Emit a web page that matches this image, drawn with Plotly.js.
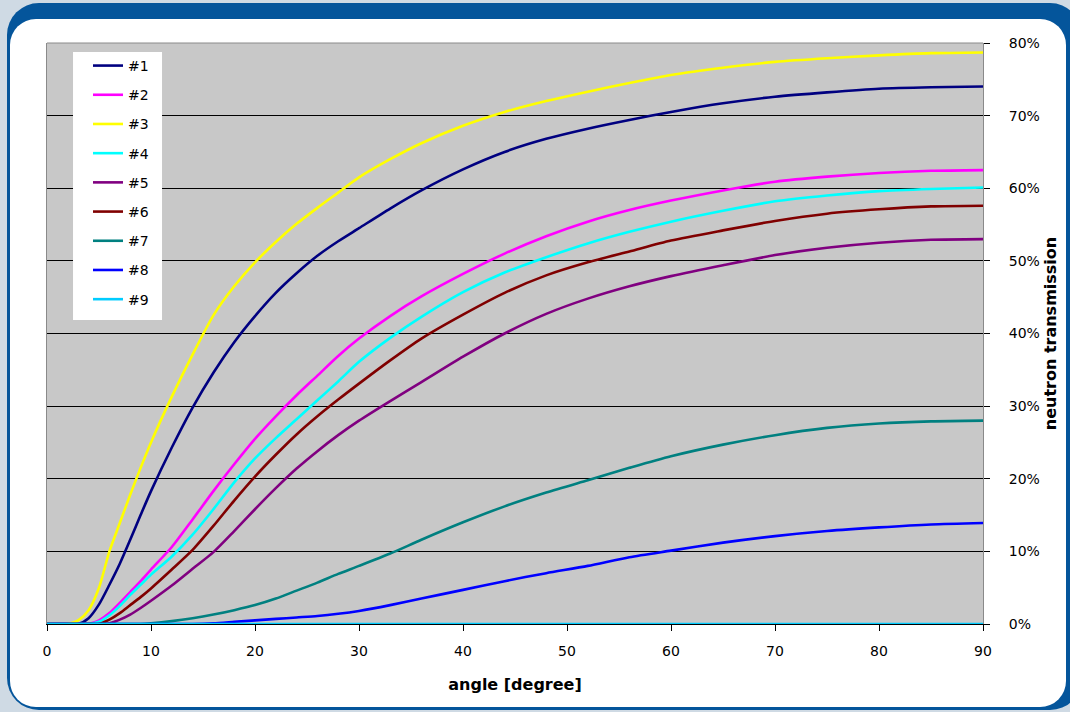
<!DOCTYPE html>
<html>
<head>
<meta charset="utf-8">
<script src="https://cdn.plot.ly/plotly-3.0.1.min.js"></script>
<style>
  html, body { margin: 0; padding: 0; width: 1070px; height: 712px; overflow: hidden; background: #cfdae4; }
  #frameOuter { position: absolute; left: 7px; top: 3px; width: 1075px; height: 707px; background: #04559b; border-radius: 32px; }
  #frameInner { position: absolute; left: 10px; top: 19px; width: 1056px; height: 688px; background: #ffffff; border-radius: 26px; }
  #chart { position: absolute; left: 0; top: 0; width: 1070px; height: 712px; }
</style>
</head>
<body>
<div id="frameOuter"></div>
<div id="frameInner"></div>
<div id="chart"></div>
<script>
// angle [degree]
const angles = [0,2,3,4,5,6,7,8,9,10,12,14,16,18,20,22,24,26,28,30,33,36,40,44,48,52,56,60,65,70,75,80,85,90];

// neutron transmission [%]
const s1 = [0,0,0,0.8,2.7,5.4,8.3,11.6,15.0,18.3,24.3,29.8,34.6,38.8,42.4,45.6,48.3,50.7,52.7,54.5,57.2,59.7,62.6,65.0,66.8,68.2,69.4,70.5,71.7,72.6,73.2,73.7,73.9,74.0];
const s2 = [0,0,0,0,0.5,1.5,2.9,4.4,5.9,7.5,10.6,14.4,18.3,22.0,25.5,28.6,31.5,34.2,36.9,39.3,42.4,45.1,48.2,51.0,53.4,55.4,57.0,58.3,59.7,60.9,61.6,62.1,62.4,62.5];
const s3 = [0,0,0.5,1.9,5.0,10.0,13.9,17.8,21.5,25.0,31.3,37.1,42.5,46.5,49.8,52.6,55.1,57.3,59.4,61.5,64.0,66.2,68.6,70.5,72.0,73.3,74.5,75.6,76.6,77.4,77.9,78.3,78.6,78.7];
const s4 = [0,0,0,0,0.3,1.2,2.5,4.0,5.4,6.8,9.3,12.3,15.8,19.5,22.8,25.6,28.2,30.8,33.4,36.1,39.4,42.3,45.7,48.4,50.5,52.4,54.0,55.4,56.9,58.2,59.0,59.6,59.9,60.1];
const s5 = [0,0,0,0,0,0.1,0.6,1.3,2.2,3.2,5.3,7.6,9.9,12.8,15.8,18.7,21.4,23.8,26.0,28.0,30.7,33.3,36.8,40.0,42.7,44.8,46.5,47.9,49.4,50.8,51.8,52.5,52.9,53.0];
const s6 = [0,0,0,0,0,0.6,1.5,2.6,3.7,4.9,7.5,10.2,13.5,17.0,20.3,23.3,26.1,28.6,30.9,33.1,36.3,39.3,42.6,45.6,48.0,49.8,51.3,52.8,54.2,55.5,56.5,57.1,57.5,57.6];
const s7 = [0,0,0,0,0,0,0,0,0,0.1,0.4,0.8,1.3,1.9,2.6,3.5,4.6,5.7,6.9,8.0,9.7,11.6,14.0,16.2,18.1,19.8,21.5,23.1,24.7,26.0,27.0,27.6,27.9,28.0];
const s8 = [0,0,0,0,0,0,0,0,0,0,0,0,0.1,0.3,0.5,0.7,0.9,1.1,1.4,1.8,2.6,3.5,4.7,5.9,7.0,8.0,9.2,10.1,11.2,12.1,12.8,13.3,13.7,13.9];
const s9 = [0,0,0,0,0,0,0,0,0,0,0,0,0,0,0,0,0,0,0,0,0,0,0,0,0,0,0,0,0,0,0,0,0,0];

const seriesNames = ['#1','#2','#3','#4','#5','#6','#7','#8','#9'];
const seriesValues = [s1,s2,s3,s4,s5,s6,s7,s8,s9];
const seriesColors = ['#000080','#ff00ff','#ffff00','#00ffff','#800080','#800000','#008080','#0000ff','#00ccff'];

const yTicks = [0,10,20,30,40,50,60,70,80];
const yTickLabels = ['0%','10%','20%','30%','40%','50%','60%','70%','80%'];
const xTicks = [0,10,20,30,40,50,60,70,80,90];
const xTickLabels = ['0','10','20','30','40','50','60','70','80','90'];

const FONT = 'DejaVu Sans, Verdana, sans-serif';

const traces = seriesValues.map((vals, i) => ({
  type: 'scatter',
  mode: 'lines',
  x: angles,
  y: vals,
  name: seriesNames[i],
  legendgroup: 'g' + i,
  line: { color: seriesColors[i], width: 2.6, shape: 'spline', smoothing: 0.7 },
  hoverinfo: 'x+y+name'
}));

const layout = {
  width: 1070,
  height: 712,
  margin: { l: 47, r: 87, t: 43, b: 88 },
  paper_bgcolor: 'rgba(0,0,0,0)',
  plot_bgcolor: '#c8c8c8',
  font: { family: FONT, size: 14, color: '#000000' },
  showlegend: true,
  legend: {
    x: 0.0438, y: 0.988, xanchor: 'left', yanchor: 'top',
    bgcolor: 'rgba(0,0,0,0)', borderwidth: 0,
    font: { family: FONT, size: 14, color: '#000000' },
    tracegroupgap: 8,
    traceorder: 'grouped'
  },
  xaxis: {
    range: [0, 90],
    tickmode: 'array',
    tickvals: xTicks,
    ticktext: xTickLabels,
    ticks: 'outside', ticklen: 6, tickcolor: '#000000',
    ticklabelstandoff: 8,
    showline: true, linecolor: '#000000', linewidth: 1,
    showgrid: false, zeroline: false,
    tickfont: { family: FONT, size: 14, color: '#000000' },
    title: { text: 'angle [degree]', font: { family: FONT, size: 16, color: '#000000', weight: 'bold' }, standoff: 21 }
  },
  yaxis: {
    side: 'right',
    range: [0, 80],
    tickmode: 'array',
    tickvals: yTicks,
    ticktext: yTickLabels,
    ticks: 'outside', ticklen: 6, tickcolor: '#000000',
    ticklabelstandoff: 16,
    showline: true, linecolor: '#8a8a8a', linewidth: 1, mirror: true,
    showgrid: true, gridcolor: '#000000', gridwidth: 1,
    zeroline: false,
    tickfont: { family: FONT, size: 14, color: '#000000' },
    title: { text: 'neutron transmission', font: { family: FONT, size: 16, color: '#000000', weight: 'bold' }, standoff: 5 }
  },
  shapes: [
    { type: 'line', xref: 'paper', yref: 'paper', x0: 0, x1: 1, y0: 1, y1: 1, line: { color: '#8a8a8a', width: 1 }, layer: 'above' },
    { type: 'rect', xref: 'paper', yref: 'paper', x0: 0.0278, x1: 0.1229, y0: 0.5232, y1: 0.9845, fillcolor: '#ffffff', line: { width: 0 }, layer: 'above' }
  ]
};

Plotly.newPlot('chart', traces, layout, { displayModeBar: false });
</script>
</body>
</html>
